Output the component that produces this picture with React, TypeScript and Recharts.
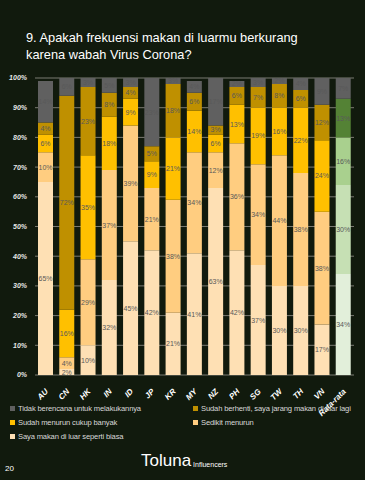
import { BarChart, Bar, XAxis, YAxis, CartesianGrid, Cell, LabelList } from 'recharts';

const categories = ['AU', 'CN', 'HK', 'IN', 'ID', 'JP', 'KR', 'MY', 'NZ', 'PH', 'SG', 'TW', 'TH', 'VN', 'Rata-rata'];

// bottom -> top
const biasa = [65, 2, 10, 32, 45, 42, 21, 41, 63, 42, 37, 30, 30, 17, 34];
const sedikit = [10, 4, 29, 37, 39, 21, 38, 34, 12, 36, 34, 44, 38, 38, 30];
const cukupBanyak = [6, 16, 35, 18, 9, 9, 21, 14, 6, 13, 19, 16, 22, 24, 16];
const berhenti = [4, 72, 23, 8, 4, 5, 18, 6, 3, 6, 7, 8, 6, 12, 13];
const tidak = [14, 6, 3, 5, 3, 23, 3, 4, 17, 2, 3, 2, 4, 9, 7];

const yTicks = [0, 10, 20, 30, 40, 50, 60, 70, 80, 90, 100];

const data = categories.map((name, i) => ({
  name,
  biasa: biasa[i],
  sedikit: sedikit[i],
  cukupBanyak: cukupBanyak[i],
  berhenti: berhenti[i],
  tidak: tidak[i],
}));

const series = [
  { key: 'biasa', name: 'Saya makan di luar seperti biasa', color: '#fee0b4', avg: '#e2efda' },
  { key: 'sedikit', name: 'Sedikit menurun', color: '#ffcd80', avg: '#c6e0b4' },
  { key: 'cukupBanyak', name: 'Sudah menurun cukup banyak', color: '#ffc000', avg: '#a9d08e' },
  { key: 'berhenti', name: 'Sudah berhenti, saya jarang makan di luar lagi', color: '#bf9000', avg: '#548235' },
  { key: 'tidak', name: 'Tidak berencana untuk melakukannya', color: '#606060', avg: '#606060' },
];

const legendOrder = ['tidak', 'berhenti', 'cukupBanyak', 'sedikit', 'biasa'];

const BG = '#111a0d';
const FONT = '"Liberation Sans", Arial, sans-serif';

const XTick = (props: any) => {
  const { x, y, payload } = props;
  return (
    <text
      x={x + 3}
      y={y + 9}
      transform={`rotate(-45 ${x + 3} ${y + 9})`}
      textAnchor="end"
      fill="#ffffff"
      fontSize={8}
      fontStyle="italic"
      fontWeight="bold"
      fontFamily={FONT}
    >
      {payload.value}
    </text>
  );
};

export default function App() {
  return (
    <div style={{ position: 'absolute', left: 0, top: 0, width: 365, height: 480, background: BG, fontFamily: FONT, overflow: 'hidden' }}>
      <div style={{ position: 'absolute', left: 26, top: 29, color: '#ffffff', fontSize: 12.8, lineHeight: '17px' }}>
        9. Apakah frekuensi makan di luarmu berkurang
        <br />
        karena wabah Virus Corona?
      </div>

      <div style={{ position: 'absolute', left: 0, top: 0 }}>
        <BarChart
          width={365}
          height={420}
          data={data}
          margin={{ top: 78, right: 11, bottom: 20, left: 0 }}
          barSize={15}
        >
          <CartesianGrid vertical={false} stroke="#7a7a72" strokeWidth={1} />
          <XAxis dataKey="name" height={25} axisLine={false} tickLine={false} interval={0} tick={<XTick />} />
          <YAxis
            width={35}
            domain={[0, 100]}
            ticks={yTicks}
            allowDataOverflow
            axisLine={false}
            tickLine={false}
            tickFormatter={(v: number) => `${v}%`}
            tick={{ fill: '#e6e6e6', fontSize: 7, fontStyle: 'italic', fontWeight: 'bold', fontFamily: FONT }}
          />
          {series.map((s) => (
            <Bar key={s.key} dataKey={s.key} name={s.name} stackId="a" fill={s.color} isAnimationActive={false}>
              {data.map((_d, i) => (
                <Cell key={`c-${i}`} fill={i === categories.length - 1 ? s.avg : s.color} />
              ))}
              <LabelList
                dataKey={s.key}
                position="center"
                formatter={(v: any) => `${v}%`}
                fill="#595959"
                fontSize={7}
                fontFamily={FONT}
              />
            </Bar>
          ))}
        </BarChart>
      </div>

      <div style={{ position: 'absolute', left: 10, top: 403, width: 355, display: 'grid', gridTemplateColumns: '183px 172px', rowGap: 4, fontSize: 7.6, letterSpacing: -0.15, color: '#d9d9d9' }}>
        {legendOrder.map((k) => {
          const s = series.find((x) => x.key === k)!;
          return (
            <div key={k} style={{ display: 'flex', alignItems: 'center', whiteSpace: 'nowrap', height: 10 }}>
              <span style={{ width: 5, height: 5, background: s.color, marginRight: 3, display: 'inline-block', flexShrink: 0 }} />
              {s.name}
            </div>
          );
        })}
      </div>

      <div style={{ position: 'absolute', left: 141, top: 452, color: '#ffffff', display: 'flex', alignItems: 'flex-end' }}>
        <span style={{ fontSize: 17, lineHeight: '18px' }}>Toluna</span>
        <span style={{ fontSize: 7, marginLeft: 2, marginBottom: 2 }}>Influencers</span>
      </div>
      <div style={{ position: 'absolute', left: 5, top: 464, color: '#ffffff', fontSize: 8 }}>20</div>
    </div>
  );
}
